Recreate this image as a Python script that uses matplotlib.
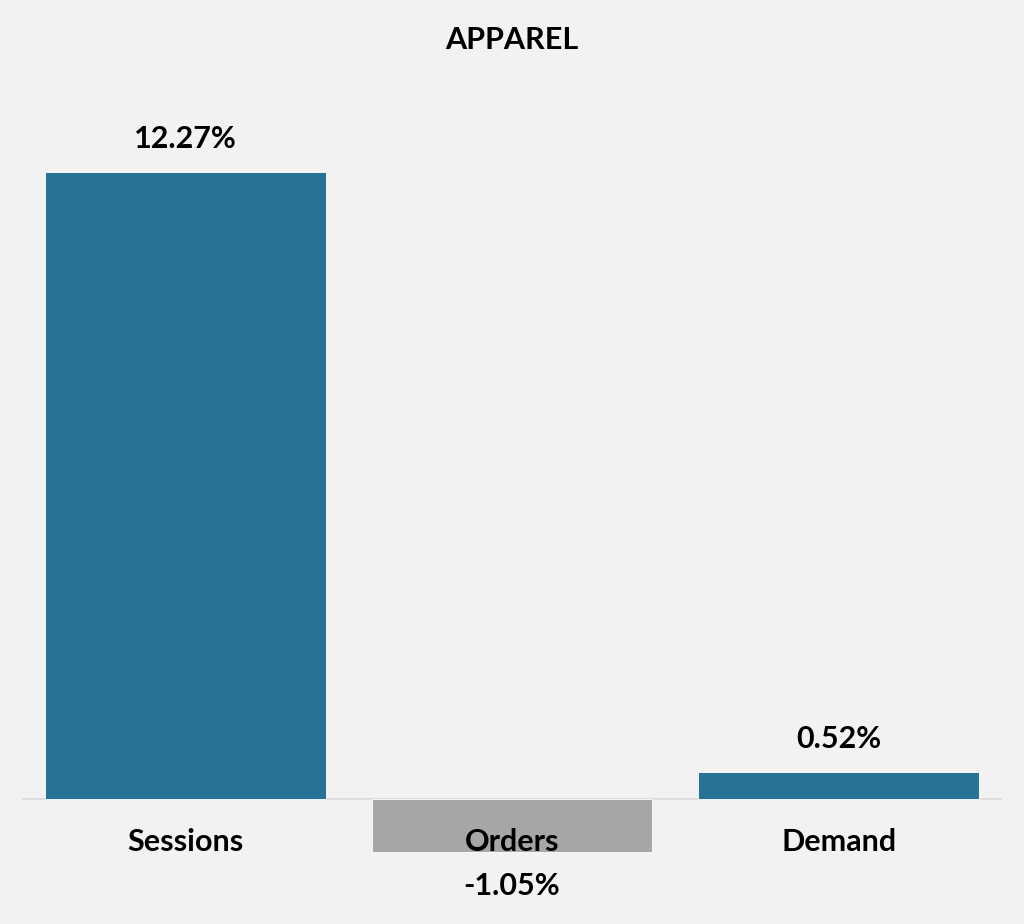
import matplotlib.pyplot as plt
from matplotlib import transforms

categories = ["Sessions", "Orders", "Demand"]
values = [12.27, -1.05, 0.52]
labels = ["12.27%", "-1.05%", "0.52%"]

blue = "#267396"
grey = "#a6a6a6"
bg = "#f2f2f2"

plt.rcParams['font.family'] = ['Lato', 'DejaVu Sans']

fig = plt.figure(figsize=(10.24, 9.24), dpi=100, facecolor=bg)
# axes placed so the zero line sits at ~799 px from the top
ax = fig.add_axes([22 / 1024, 24 / 924, 980 / 1024, 800 / 924])
ax.set_facecolor(bg)

colors = [blue if v >= 0 else grey for v in values]
x = list(range(len(categories)))
ax.bar(x, values, width=0.86, color=colors, edgecolor="#ffffff", linewidth=0.6, zorder=2)
ax.axhline(0, color="#d9d9d9", linewidth=1.2, zorder=1)

ax.set_xlim(-0.5, 2.5)
ax.set_ylim(-1.98, 13.68)

for xi, v, lab in zip(x, values, labels):
    if v >= 0:
        ax.annotate(lab, (xi, v), xytext=(0, 14), textcoords="offset points",
                    ha="center", va="bottom", fontsize=22, fontweight="bold", zorder=3)
    else:
        ax.annotate(lab, (xi, v), xytext=(0, -14), textcoords="offset points",
                    ha="center", va="top", fontsize=22, fontweight="bold", zorder=3)

# category names just under the zero line, drawn over the bars
for xi, name in zip(x, categories):
    ax.annotate(name, (xi, 0), xytext=(0, -31), textcoords="offset points",
                ha="center", va="center", fontsize=22, fontweight="bold", zorder=4)

for s in ax.spines.values():
    s.set_visible(False)
ax.set_xticks([])
ax.set_yticks([])

fig.text(0.5, 1 - 40 / 924, "APPAREL", ha="center", va="center",
         fontsize=22, fontweight="bold")

fig.savefig("out.png", dpi=100, facecolor=bg)
